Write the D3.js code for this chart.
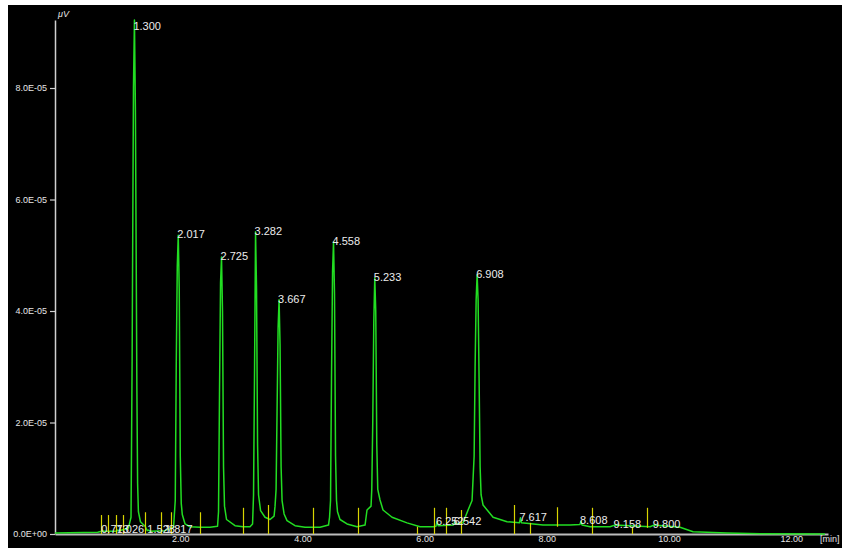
<!DOCTYPE html>
<html>
<head>
<meta charset="utf-8">
<script src="https://cdn.jsdelivr.net/npm/d3@7"></script>
<style>
  body { margin: 0; background: #fff; }
  svg { display: block; }
</style>
</head>
<body>
<svg id="chart"></svg>
<script>
// signal values are in units of 1E-06
const yTicks = [0, 20, 40, 60, 80];
const xTicks = [2, 4, 6, 8, 10, 12];

// chromatogram trace: [min, signal]
const trace = [
    [0.000, 0.2], [0.700, 0.3], [0.760, 0.5], [0.773, 0.7], [0.790, 0.5],
    [1.010, 0.5], [1.026, 0.7], [1.045, 0.6], [1.200, 1.0],
    [1.244, 3.0], [1.262, 31.0], [1.284, 80.0], [1.300, 92.2], [1.316, 76.0],
    [1.340, 26.0], [1.352, 9.0], [1.365, 4.0], [1.398, 2.2], [1.473, 1.4],
    [1.510, 0.6], [1.528, 0.7], [1.555, 0.5], [1.800, 0.6], [1.817, 0.7], [1.940, 1.2],
    [1.968, 6.0], [1.984, 30.0], [2.001, 48.0], [2.017, 53.6], [2.033, 44.0],
    [2.050, 14.0], [2.066, 5.5], [2.083, 3.5], [2.128, 1.8], [2.209, 1.3],
    [2.373, 1.2], [2.537, 1.2], [2.660, 1.4],
    [2.676, 4.0], [2.692, 25.0], [2.709, 45.0], [2.725, 49.7], [2.741, 40.0],
    [2.758, 12.0], [2.774, 5.0], [2.807, 2.6], [2.946, 1.5], [3.077, 1.3],
    [3.191, 1.3], [3.233, 1.8],
    [3.249, 7.0], [3.266, 30.0], [3.282, 54.2], [3.298, 44.0], [3.315, 16.0],
    [3.331, 7.0], [3.364, 4.2], [3.437, 3.0], [3.519, 2.6], [3.585, 3.2], [3.601, 5.0],
    [3.618, 8.0], [3.634, 22.0], [3.651, 37.0], [3.667, 42.0], [3.683, 34.0],
    [3.700, 12.0], [3.716, 6.0], [3.749, 3.6], [3.797, 2.4], [3.928, 1.5],
    [4.092, 1.2], [4.337, 1.2], [4.476, 1.6],
    [4.493, 3.0], [4.509, 6.0], [4.525, 28.0], [4.542, 47.0], [4.558, 52.4],
    [4.574, 43.0], [4.591, 14.0], [4.607, 6.0], [4.623, 4.0], [4.664, 2.6],
    [4.779, 1.8], [4.943, 1.3], [5.074, 1.6], [5.106, 4.3], [5.172, 5.0],
    [5.184, 8.0], [5.200, 20.0], [5.217, 38.0], [5.233, 45.9], [5.249, 40.0],
    [5.266, 16.0], [5.282, 8.0], [5.319, 6.1], [5.368, 4.3], [5.516, 3.0],
    [5.761, 2.0], [5.974, 1.3], [6.187, 1.3],
    [6.235, 1.4], [6.252, 2.2], [6.270, 1.5], [6.520, 1.6], [6.542, 2.2], [6.560, 1.8],
    [6.678, 2.0], [6.760, 4.3], [6.825, 6.0],
    [6.859, 14.0], [6.875, 30.0], [6.892, 42.0], [6.908, 46.5], [6.924, 42.0],
    [6.940, 28.0], [6.957, 12.0], [6.973, 7.0], [7.005, 5.2], [7.169, 3.0],
    [7.398, 2.2], [7.600, 2.0], [7.617, 2.9], [7.634, 2.0], [7.987, 1.6],
    [8.429, 1.6], [8.590, 1.7], [8.608, 2.3], [8.625, 1.6], [8.756, 1.3],
    [9.083, 1.3], [9.158, 1.6], [9.738, 1.3], [9.800, 1.6], [10.229, 1.2],
    [10.442, 0.4], [10.998, 0.2], [11.538, 0.05], [12.600, 0.0]
];

// labelled peaks
const peakTimes = [0.773, 1.026, 1.300, 1.528, 1.817, 2.017, 2.725, 3.282, 3.667,
    4.558, 5.233, 6.252, 6.542, 6.908, 7.617, 8.608, 9.158, 9.800];
const peakHeights = [0.7, 0.7, 92.2, 0.7, 0.7, 53.6, 49.7, 54.2, 42.0,
    52.4, 45.9, 2.2, 2.2, 46.5, 2.9, 2.3, 1.6, 1.6];

// integration marks (yellow)
const markTimes = [0.753, 0.867, 0.998, 1.113, 1.473, 1.735, 1.899, 2.373, 3.077, 3.486,
    4.223, 4.959, 5.925, 6.203, 6.399, 6.645, 7.512, 7.774, 8.216, 8.789, 9.444, 9.689];
const markTops = [3.4, 3.4, 3.4, 3.4, 3.9, 3.9, 3.9, 3.9, 4.7, 5.2,
    4.7, 4.7, 1.3, 4.7, 4.7, 4.3, 5.2, 2.0, 4.8, 4.7, 1.3, 4.7];
const markBases = [0, 0, 0, 0, 0, 0, 0, 0, 0, 0,
    0, 0, 0, 0, 0, 0, 0, 0, 1.3, 0, 0, 1.1];

const width = 842;
const height = 548;
const font = "'Liberation Sans', Arial, sans-serif";

const svg = d3.select("#chart")
    .attr("width", width)
    .attr("height", height);

svg.append("rect")
    .attr("x", 8)
    .attr("y", 5)
    .attr("width", width - 8)
    .attr("height", height - 5)
    .attr("fill", "#000");

const x = d3.scaleLinear().domain([0, 12.65]).range([55, 828]);
const y = d3.scaleLinear().domain([0, 92.2]).range([534, 20]);

function fmtE(v) {
    const parts = (v * 1e-6).toExponential(1).split("e");
    const n = +parts[1];
    return parts[0] + "E" + (n < 0 ? "-" : "+") + String(Math.abs(n)).padStart(2, "0");
}

const yAxis = svg.append("g")
    .attr("transform", "translate(55,0)")
    .call(d3.axisLeft(y).tickValues(yTicks).tickFormat(fmtE).tickSize(5).tickSizeOuter(0));
yAxis.select(".domain").attr("stroke", "#d0d0d0").attr("stroke-width", 1.5);
yAxis.selectAll(".tick line").attr("stroke", "#d0d0d0").attr("stroke-width", 1.2);
yAxis.selectAll("text").attr("fill", "#e6e6e6").style("font", "9px " + font);

const xAxis = svg.append("g")
    .attr("transform", "translate(0,534)")
    .call(d3.axisBottom(x).tickValues(xTicks).tickFormat(d3.format(".2f")).tickSize(0).tickSizeOuter(0).tickPadding(2));
xAxis.select(".domain").attr("stroke", "#bcbcbc").attr("stroke-width", 2);
xAxis.selectAll("text").attr("fill", "#e6e6e6").attr("dx", 3).style("font", "9px " + font);

svg.append("text")
    .attr("x", 58).attr("y", 17)
    .attr("fill", "#e6e6e6")
    .style("font", "italic 9px " + font)
    .text("μV");

svg.append("text")
    .attr("x", 820).attr("y", 542)
    .attr("fill", "#e6e6e6")
    .style("font", "9px " + font)
    .text("[min]");

const line = d3.line()
    .x(d => x(d[0]))
    .y(d => y(d[1]));

svg.append("path")
    .datum(trace)
    .attr("d", line)
    .attr("fill", "none")
    .attr("stroke", "#22dd22")
    .attr("stroke-width", 1.5)
    .attr("stroke-linejoin", "round");

svg.append("g")
    .selectAll("line")
    .data(markTimes)
    .join("line")
        .attr("x1", d => Math.round(x(d)) + 0.5)
        .attr("x2", d => Math.round(x(d)) + 0.5)
        .attr("y1", (d, i) => y(markBases[i]))
        .attr("y2", (d, i) => y(markTops[i]))
        .attr("stroke", "#d8d400")
        .attr("stroke-width", 1.2);

svg.append("g")
    .selectAll("text")
    .data(peakTimes)
    .join("text")
        .attr("x", d => x(d) - 1)
        .attr("y", (d, i) => Math.max(y(peakHeights[i]) + 3, 30))
        .attr("fill", "#ececec")
        .style("font", "11px " + font)
        .text(d => d3.format(".3f")(d));
</script>
</body>
</html>
